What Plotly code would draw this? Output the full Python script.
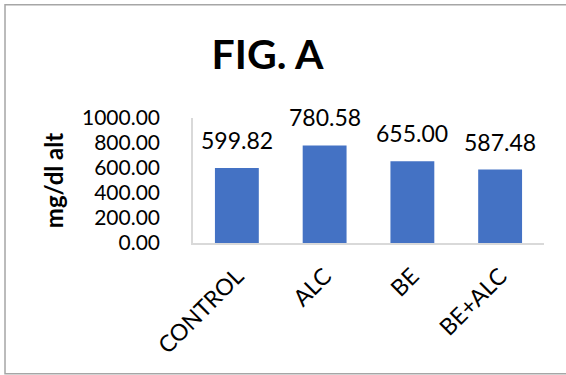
import plotly.graph_objects as go

# ALT levels per treatment group
groups = ["CONTROL", "ALC", "BE", "BE+ALC"]
alt_values = [599.82, 780.58, 655.00, 587.48]
y_ticks = [0, 200, 400, 600, 800, 1000]

FONT = "Lato"
BAR_COLOR = "#4472C4"
AXIS_COLOR = "#D9D9D9"

fig = go.Figure()
fig.add_trace(go.Bar(
    x=groups,
    y=alt_values,
    width=0.5,
    marker=dict(color=BAR_COLOR, line=dict(width=0)),
    hoverinfo="skip",
))

# value labels above each bar
for g, v in zip(groups, alt_values):
    fig.add_annotation(
        x=g, y=v, text=f"{v:.2f}", showarrow=False,
        yanchor="middle", yshift=28,
        font=dict(family=FONT, size=23, color="#000000"),
    )

# chart frame
fig.add_shape(
    type="rect", xref="paper", yref="paper",
    x0=-0.5356, x1=1.08, y0=-1.045, y1=1.906,
    line=dict(color="#A6A6A6", width=1.5), fillcolor="rgba(0,0,0,0)",
    layer="below",
)

fig.update_layout(
    width=566, height=375,
    margin=dict(l=193, r=22, t=118, b=132, autoexpand=False),
    paper_bgcolor="white", plot_bgcolor="white",
    showlegend=False,
    title=dict(
        text="<b>FIG. A</b>", x=267.5 / 566, xanchor="center",
        y=1 - 55 / 375, yanchor="middle",
        font=dict(family=FONT, size=41, color="#000000"),
    ),
    font=dict(family=FONT, color="#000000"),
    bargap=0.5,
)

fig.update_xaxes(
    tickangle=-45,
    tickfont=dict(family=FONT, size=23, color="#000000"),
    showline=True, linecolor=AXIS_COLOR, linewidth=1.5,
    showgrid=False, ticks="", zeroline=False,
    ticklabelstandoff=9,
)

fig.update_yaxes(
    range=[0, 1000],
    tickvals=y_ticks,
    tickformat=".2f",
    tickfont=dict(family=FONT, size=21, color="#000000"),
    showline=True, linecolor=AXIS_COLOR, linewidth=1.5,
    showgrid=False, ticks="", zeroline=False,
    ticklabelstandoff=27,
    title=dict(
        text="<b>mg/dl alt</b>", standoff=12,
        font=dict(family=FONT, size=24, color="#000000"),
    ),
)

fig.write_html("out.html")
